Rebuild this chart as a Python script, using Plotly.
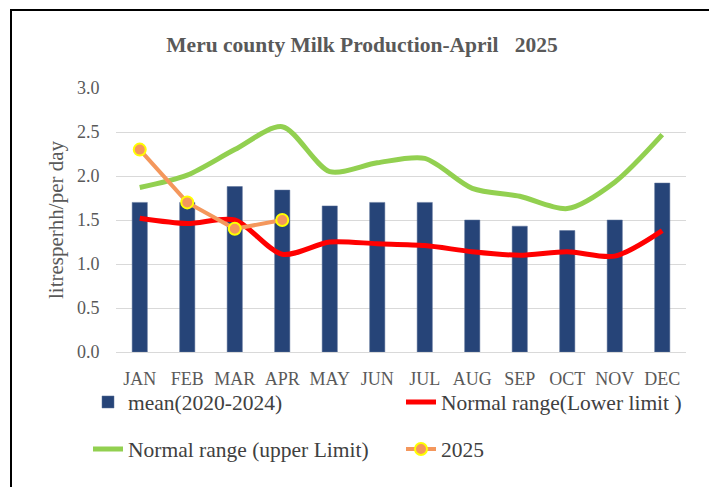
import plotly.graph_objects as go

months = ['JAN', 'FEB', 'MAR', 'APR', 'MAY', 'JUN', 'JUL', 'AUG', 'SEP', 'OCT', 'NOV', 'DEC']
mean_2020_2024 = [1.70, 1.70, 1.88, 1.84, 1.66, 1.70, 1.70, 1.50, 1.43, 1.38, 1.50, 1.92]
lower_limit = [1.52, 1.46, 1.50, 1.11, 1.25, 1.23, 1.21, 1.14, 1.10, 1.14, 1.09, 1.38]
upper_limit = [1.87, 2.01, 2.30, 2.56, 2.05, 2.15, 2.20, 1.86, 1.77, 1.63, 1.93, 2.47]
months_2025 = ['JAN', 'FEB', 'MAR', 'APR']
values_2025 = [2.30, 1.70, 1.40, 1.50]

# the page adds an 8px body margin, so the figure is sized to fit inside it
OFF = 8
W, H = 717 - OFF, 487 - OFF
L, R, T, B = 116 - OFF, 31, 88 - OFF, 135
pw, ph = W - L - R, H - T - B

def px_x(x):
    # x in screenshot pixels -> paper fraction
    return (x - OFF - L) / pw

def px_y(y):
    return (H - B - (y - OFF)) / ph

grey = '#595959'
font_name = 'Liberation Serif'

fig = go.Figure()

fig.add_trace(go.Bar(
    x=months, y=mean_2020_2024, name='mean(2020-2024)',
    marker=dict(color='#264478', line=dict(color='#5a7099', width=0.5)),
    legend='legend'
))
fig.add_trace(go.Scatter(
    x=months, y=lower_limit, name='Normal range(Lower limit )', mode='lines',
    line=dict(color='#ff0000', width=5, shape='spline', smoothing=0.8),
    legend='legend2'
))
fig.add_trace(go.Scatter(
    x=months, y=upper_limit, name='Normal range (upper Limit)', mode='lines',
    line=dict(color='#92d050', width=5, shape='spline', smoothing=0.8),
    legend='legend3'
))
fig.add_trace(go.Scatter(
    x=months_2025, y=values_2025, name='2025', mode='lines+markers',
    line=dict(color='#f4975c', width=4),
    marker=dict(size=12, color='#f4975c', line=dict(color='#ffff00', width=2)),
    legend='legend4'
))

def legend_at(xp, yp):
    return dict(
        orientation='h', xanchor='left', yanchor='middle',
        x=px_x(xp), y=px_y(yp),
        font=dict(family=font_name, size=21.5, color='#404040'),
        bgcolor='rgba(0,0,0,0)'
    )

fig.update_layout(
    width=W, height=H,
    margin=dict(l=L, r=R, t=T, b=B, autoexpand=False),
    paper_bgcolor='white', plot_bgcolor='white',
    font=dict(family=font_name, color=grey),
    title=dict(
        text='<b>Meru county Milk Production-April   2025</b>',
        xref='container', yref='container',
        x=(362 - OFF) / W, xanchor='center', y=1 - (44 - OFF) / H, yanchor='middle',
        font=dict(family=font_name, size=21.5, color=grey)
    ),
    bargap=0.68,
    showlegend=True,
    legend=legend_at(88, 402),
    legend2=legend_at(401, 402),
    legend3=legend_at(88, 449),
    legend4=legend_at(401, 449),
    xaxis=dict(
        range=[-0.5, len(months) - 0.5],
        showgrid=False, showline=True, linecolor='#d9d9d9', linewidth=1,
        ticks='outside', ticklen=10, tickcolor='rgba(0,0,0,0)',
        tickfont=dict(family=font_name, size=18, color=grey)
    ),
    yaxis=dict(
        range=[0, 3.0], dtick=0.5, tickformat='.1f',
        showgrid=True, gridcolor='#d9d9d9', gridwidth=1,
        zeroline=False, showline=False,
        ticks='outside', ticklen=12, tickcolor='rgba(0,0,0,0)',
        tickfont=dict(family=font_name, size=18, color=grey)
    ),
    annotations=[dict(
        text='litresperhh/per day', textangle=-90,
        x=px_x(56), y=px_y(220), xref='paper', yref='paper',
        showarrow=False, xanchor='center', yanchor='middle',
        font=dict(family=font_name, size=21, color=grey)
    )],
    shapes=[dict(
        type='rect', xref='paper', yref='paper',
        x0=px_x(11), x1=px_x(715), y0=px_y(10), y1=px_y(500),
        line=dict(color='black', width=2), fillcolor='rgba(0,0,0,0)', layer='below'
    )]
)

fig.write_html('out.html')
